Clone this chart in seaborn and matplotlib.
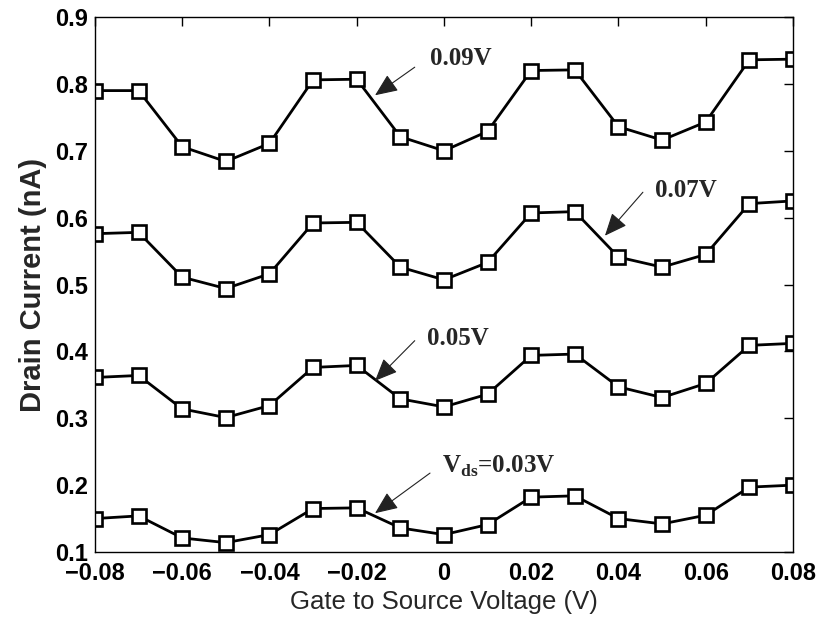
import matplotlib
matplotlib.use("Agg")
import matplotlib.pyplot as plt
import seaborn as sns
import numpy as np
import pandas as pd

# ---- data ----
vgs = [-0.08, -0.07, -0.06, -0.05, -0.04, -0.03, -0.02, -0.01, 0.0,
       0.01, 0.02, 0.03, 0.04, 0.05, 0.06, 0.07, 0.08]
id_009 = [0.790, 0.790, 0.706, 0.684, 0.711, 0.806, 0.807, 0.721, 0.700,
          0.729, 0.820, 0.821, 0.736, 0.716, 0.743, 0.836, 0.837]
id_007 = [0.576, 0.578, 0.511, 0.494, 0.516, 0.592, 0.593, 0.526, 0.507,
          0.533, 0.607, 0.609, 0.541, 0.526, 0.545, 0.621, 0.625]
id_005 = [0.361, 0.364, 0.314, 0.301, 0.319, 0.376, 0.379, 0.329, 0.317,
          0.336, 0.394, 0.396, 0.347, 0.331, 0.352, 0.409, 0.412]
id_003 = [0.150, 0.154, 0.121, 0.114, 0.126, 0.165, 0.166, 0.136, 0.126,
          0.141, 0.182, 0.184, 0.150, 0.142, 0.155, 0.197, 0.200]
series = {"0.03V": id_003, "0.05V": id_005, "0.07V": id_007, "0.09V": id_009}

xticks = [-0.08, -0.06, -0.04, -0.02, 0, 0.02, 0.04, 0.06, 0.08]
xtick_labels = ["\u22120.08", "\u22120.06", "\u22120.04", "\u22120.02", "0",
                "0.02", "0.04", "0.06", "0.08"]
yticks = [0.1, 0.2, 0.3, 0.4, 0.5, 0.6, 0.7, 0.8, 0.9]
ytick_labels = ["0.1", "0.2", "0.3", "0.4", "0.5", "0.6", "0.7", "0.8", "0.9"]

sns.set_style("white")
plt.rcParams["font.family"] = ["Liberation Sans", "DejaVu Sans"]
plt.rcParams["mathtext.fontset"] = "custom"
plt.rcParams["mathtext.rm"] = "Liberation Serif"
plt.rcParams["mathtext.bf"] = "Liberation Serif:bold"

fig = plt.figure(figsize=(8.18, 6.31), dpi=100)
ax = fig.add_axes([0.1161, 0.1252, 0.8533, 0.8478])

rows = []
for name, vals in series.items():
    for x, y in zip(vgs, vals):
        rows.append({"Vgs": x, "Id": y, "Vds": name})
df = pd.DataFrame(rows)

sns.lineplot(data=df, x="Vgs", y="Id", hue="Vds",
             palette=["black"] * 4, marker="s", markersize=10,
             markerfacecolor="white", markeredgecolor="black",
             markeredgewidth=1.9, linewidth=2.0, dashes=False,
             legend=False, ax=ax)

ax.set_xlim(-0.08, 0.08)
ax.set_ylim(0.1, 0.9)
ax.set_xticks(xticks)
ax.set_xticklabels(xtick_labels, fontsize=17, fontweight="bold")
ax.set_yticks(yticks)
ax.set_yticklabels(ytick_labels, fontsize=17, fontweight="bold")
ax.tick_params(direction="in", length=6.5, width=1, top=True, right=True,
               colors="black")
ax.tick_params(axis="x", pad=7)
ax.tick_params(axis="y", pad=5)
for sp in ax.spines.values():
    sp.set_color("black")
    sp.set_linewidth(1)

ax.set_xlabel("Gate to Source Voltage (V)", fontsize=18.5, labelpad=4)
ax.set_ylabel("Drain Current (nA)", fontsize=21, fontweight="bold", labelpad=6)

arrow = dict(arrowstyle="-|>,head_length=0.7,head_width=0.3",
             color="#222222", lw=0.8, mutation_scale=20, shrinkA=0, shrinkB=0)
tfont = dict(fontsize=18, fontweight="bold", family="Liberation Serif",
             ha="left", va="center")

ax.annotate("", xy=(-0.0158, 0.783), xytext=(-0.0067, 0.825), arrowprops=arrow)
ax.text(-0.0033, 0.838, "0.09V", **tfont)

ax.annotate("", xy=(0.0369, 0.573), xytext=(0.0456, 0.638), arrowprops=arrow)
ax.text(0.0484, 0.641, "0.07V", **tfont)

ax.annotate("", xy=(-0.0158, 0.356), xytext=(-0.0067, 0.416), arrowprops=arrow)
ax.text(-0.0039, 0.419, "0.05V", **tfont)

ax.annotate("", xy=(-0.0158, 0.158), xytext=(-0.0032, 0.218), arrowprops=arrow)
ax.text(-0.0005, 0.228, r"V$_{\mathbf{ds}}$=0.03V", **tfont)

fig.savefig("out.png", dpi=100)
